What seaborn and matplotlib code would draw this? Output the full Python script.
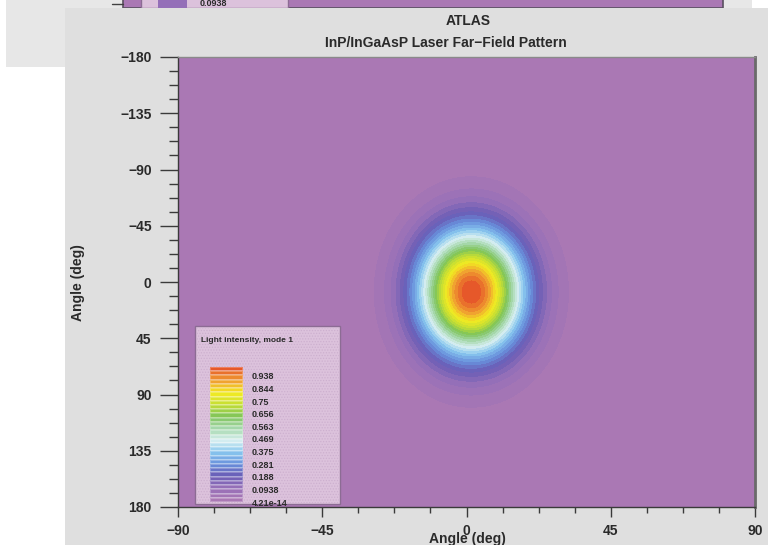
import numpy as np
import pandas as pd
import matplotlib
matplotlib.use("Agg")
import matplotlib.pyplot as plt
import seaborn as sns
from matplotlib.colors import ListedColormap, BoundaryNorm
from matplotlib.patches import Rectangle
from matplotlib.lines import Line2D
from matplotlib.ticker import MultipleLocator
from matplotlib import transforms

# Far-field beam of mode 1 (angles in degrees)
beam_center = (1.5, 8.0)       # horizontal, vertical position of the peak
beam_sigma = (11.5, 35.0)      # horizontal, vertical gaussian width
peak_intensity = 1.0

# Contour bands and the values labelled in the legend
n_bands = 32
legend_values = [0.938, 0.844, 0.75, 0.656, 0.563, 0.469, 0.375, 0.281,
                 0.188, 0.0938, 4.21e-14]

# Rainbow of the contour bands, lowest to highest intensity
band_anchor_colors = ["#aa78b4", "#9670b8", "#6a5cb6", "#6890dc", "#88c6ee",
                      "#d6eef0", "#a6d8ac", "#7ec45a", "#c4de34", "#f2ea22",
                      "#f0a030", "#e6582a"]

x_ticks = [-90, -45, 0, 45, 90]
y_ticks = [-180, -135, -90, -45, 0, 45, 90, 135, 180]

title_lines = ["ATLAS", "InP/InGaAsP Laser Far\u2212Field Pattern"]
axis_label = "Angle (deg)"
legend_title = "Light intensity, mode 1"

W, H = 768, 545
sns.set_theme(style="ticks")
plt.rcParams["font.family"] = ["Liberation Sans", "DejaVu Sans"]
plt.rcParams["axes.unicode_minus"] = True
plt.rcParams["hatch.linewidth"] = 0.6

TEXT = "#2a2a2a"

fig = plt.figure(figsize=(W / 100, H / 100), dpi=100)
fig.patch.set_facecolor("white")


def fx(px):
    return px / W


def fy(py):
    return 1 - py / H


def box(x0, y0, x1, y1, z, **kw):
    r = Rectangle((fx(x0), fy(y1)), fx(x1) - fx(x0), fy(y0) - fy(y1),
                  transform=fig.transFigure, zorder=z, **kw)
    fig.add_artist(r)
    return r


palette = sns.blend_palette(band_anchor_colors, n_colors=n_bands)
cmap = ListedColormap(palette)
levels = np.linspace(0, 1, n_bands + 1)
norm = BoundaryNorm(levels, n_bands)

# ---- window behind the plot window ----
box(6, 0, 752, 67, -10, facecolor="#e7e7e7", linewidth=0)
box(123, -10, 723, 8, -9, facecolor=palette[0], edgecolor="#5a5060", linewidth=1.2)
fig.add_artist(Line2D([fx(112), fx(123)], [fy(4), fy(4)], color="#404040",
                      linewidth=1, transform=fig.transFigure, zorder=-9))
box(141, -10, 288, 8, -8, facecolor="#dcc2dc", edgecolor="#8c6c94", linewidth=1)
box(158, -10, 187, 8, -7, facecolor=palette[3], linewidth=0)
fig.text(fx(200), fy(3.5), f"{legend_values[-2]:.3g}", fontsize=6.5,
         fontweight="bold", color=TEXT, va="center", ha="left", zorder=-7)

# ---- plot window ----
box(65, 8, 768, 545, -6, facecolor="#dfdfdf", linewidth=0)

ax = fig.add_axes([fx(178), fy(507), fx(755) - fx(178), fy(57) - fy(507)])
ax.set_facecolor(palette[0])

theta_x = np.linspace(-90, 90, 481)
theta_y = np.linspace(-180, 180, 961)
TX, TY = np.meshgrid(theta_x, theta_y)
intensity = peak_intensity * np.exp(
    -0.5 * ((TX - beam_center[0]) / beam_sigma[0]) ** 2
    - 0.5 * ((TY - beam_center[1]) / beam_sigma[1]) ** 2)
intensity = np.clip(intensity, 0, 1)
ax.contourf(TX, TY, intensity, levels=levels, cmap=cmap, norm=norm)

ax.set_xlim(-90, 90)
ax.set_ylim(180, -180)
ax.set_xticks(x_ticks)
ax.set_yticks(y_ticks)
ax.xaxis.set_minor_locator(MultipleLocator(11.25))
ax.yaxis.set_minor_locator(MultipleLocator(11.25))
ax.tick_params(axis="y", which="major", length=13, width=1, color="#3a3a3a",
               pad=6, labelsize=10, labelcolor=TEXT)
ax.tick_params(axis="y", which="minor", length=6.5, width=1, color="#3a3a3a")
ax.tick_params(axis="x", which="major", length=7, width=1, color="#3a3a3a",
               pad=5.5, labelsize=10, labelcolor=TEXT)
ax.tick_params(axis="x", which="minor", length=4, width=1, color="#3a3a3a")
for lab in ax.get_xticklabels() + ax.get_yticklabels():
    lab.set_fontweight("bold")
for side in ("left", "bottom"):
    ax.spines[side].set_color("#3a3a3a")
    ax.spines[side].set_linewidth(1)
ax.spines["top"].set_color("#8a8a8a")
ax.spines["top"].set_linewidth(1)
ax.spines["right"].set_color("#6a6a6a")
ax.spines["right"].set_linewidth(2)
ax.set_xlabel("")
ax.set_ylabel("")

fig.text(fx(468), fy(21), title_lines[0], ha="center", va="center",
         fontsize=10, fontweight="bold", color=TEXT)
fig.text(fx(446), fy(43), title_lines[1], ha="center", va="center",
         fontsize=10, fontweight="bold", color=TEXT)
fig.text(fx(78), fy(283), axis_label, rotation=90, ha="center", va="center",
         fontsize=10, fontweight="bold", color=TEXT)
fig.text(fx(467), fy(543), axis_label, ha="center", va="baseline",
         fontsize=10, fontweight="bold", color=TEXT)

# ---- legend with the contour bands ----
box(195, 326, 340, 504, 5, facecolor="#dcc2dc", edgecolor="#8c6c94", linewidth=1)
box(196, 327, 339, 503, 5.1, fill=False, hatch="......", edgecolor="#cdb0cf",
    linewidth=0)
fig.text(fx(201), fy(340), legend_title, fontsize=6, fontweight="bold",
         color=TEXT, ha="left", va="center", zorder=6)

cax = fig.add_axes([fx(210), fy(502), fx(243) - fx(210), fy(367) - fy(502)])
cax.set_zorder(6)
band_mid = (levels[:-1] + levels[1:]) / 2
sns.heatmap(pd.DataFrame({"band": band_mid[::-1]}), ax=cax, cmap=cmap, norm=norm,
            cbar=False, xticklabels=False, yticklabels=False,
            linewidths=0.3, linecolor=(1, 1, 1, 0.25))
cax.set_xlabel("")
cax.set_ylabel("")
label_tf = transforms.blended_transform_factory(cax.transAxes, cax.transData)
for v in legend_values:
    cax.text(1.27, (1 - v) * n_bands + 0.3, f"{v:.3g}", transform=label_tf,
             fontsize=6.5, fontweight="bold", color=TEXT, ha="left", va="center",
             clip_on=False)

fig.savefig("out.png", dpi=100)
